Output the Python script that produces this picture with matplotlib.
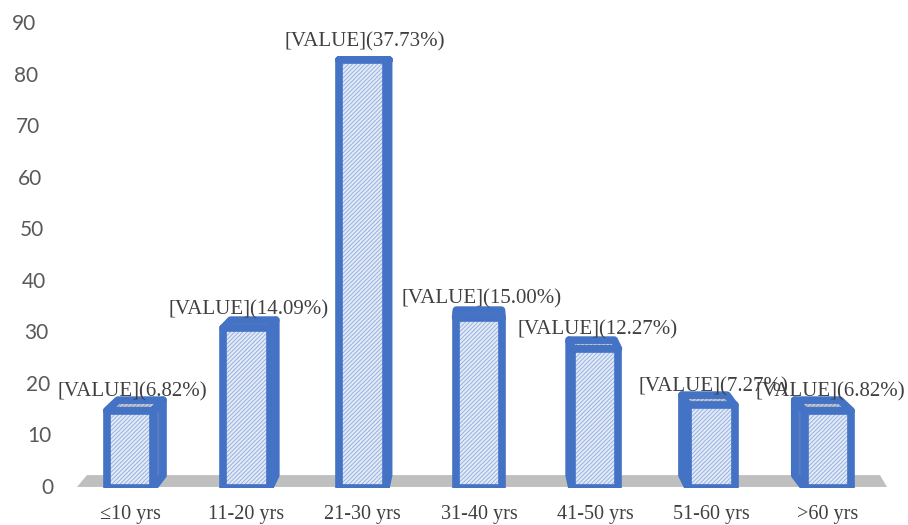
import matplotlib
matplotlib.use("Agg")
import matplotlib.pyplot as plt
from matplotlib.patches import Polygon
from matplotlib.transforms import blended_transform_factory
import numpy as np

categories = ["≤10 yrs", "11-20 yrs", "21-30 yrs", "31-40 yrs", "41-50 yrs", "51-60 yrs", ">60 yrs"]
counts = [15, 31, 83, 33, 27, 16, 15]
percent_labels = ["6.82%", "14.09%", "37.73%", "15.00%", "12.27%", "7.27%", "6.82%"]
y_ticks = [0, 10, 20, 30, 40, 50, 60, 70, 80, 90]

BLUE = "#4472c4"
SERIF = ["Liberation Serif", "DejaVu Serif"]
plt.rcParams["hatch.linewidth"] = 0.6

fig = plt.figure(figsize=(9.08, 5.25), dpi=100)
ax = fig.add_axes([0.0791, 0.0705, 0.8966, 0.8838])
ax.set_xlim(-0.5, 6.5)
ax.set_ylim(0, 90)
for s in ax.spines.values():
    s.set_visible(False)
ax.set_yticks([])

x = np.arange(len(categories))
w = 0.40
vp = (3.0, 83.0)
k = 0.03


def back(px, py):
    return (px + k * (vp[0] - px), py + k * (vp[1] - py))


# floor slab
floor = Polygon([(-0.456, 0.2), (6.509, 0.2), (6.449, 2.5), (-0.37, 2.5)],
                closed=True, facecolor="#bfbfbf", edgecolor="none", zorder=1,
                clip_on=False)
ax.add_patch(floor)

# side and top faces
for xi, v in zip(x, counts):
    xl, xr = xi - w / 2, xi + w / 2
    top = [(xl, v), (xr, v), back(xr, v), back(xl, v)]
    ax.add_patch(Polygon(top, closed=True, facecolor="#c3c9d4", edgecolor="#8e97aa",
                         hatch="////////", linewidth=0, zorder=2))
    ax.add_patch(Polygon(top, closed=True, fill=False, edgecolor=BLUE,
                         linewidth=5.5, joinstyle="round", zorder=2.5))
    if xi < vp[0] - 0.5:
        side = [(xr, 0), (xr, v), back(xr, v), back(xr, 0)]
    elif xi > vp[0] + 0.5:
        side = [(xl, 0), (xl, v), back(xl, v), back(xl, 0)]
    else:
        side = None
    if side is not None:
        ax.add_patch(Polygon(side, closed=True, facecolor="#5a7cc0", edgecolor="#2f3f66",
                             hatch="||", linewidth=0, zorder=2))
        ax.add_patch(Polygon(side, closed=True, fill=False, edgecolor=BLUE,
                             linewidth=5.5, joinstyle="round", zorder=2.5))

# front faces
ax.bar(x, counts, width=w, color="#e2eaf8", edgecolor="#8eaadb", linewidth=0,
       hatch="////////", zorder=3)
ax.bar(x, counts, width=w, fill=False, edgecolor=BLUE, linewidth=5.5,
       joinstyle="round", zorder=4)

# data labels
for xi, v, p in zip(x, counts, percent_labels):
    ax.text(xi + 0.02, v + 3.6, f"[VALUE]({p})", ha="center", va="center",
            fontsize=15, family=SERIF, color="#404040", zorder=6)

# y tick labels (perspective shifted)
trans = blended_transform_factory(fig.transFigure, ax.transData)
for t in y_ticks:
    px = 54 - 18 * t / 90
    ax.text(px / 908, t, str(t), transform=trans, ha="right", va="center",
            fontsize=15, family="Lato", color="#595959", clip_on=False)

# x tick labels
ax.set_xticks(x)
ax.set_xticklabels(categories, fontsize=14.5, family=SERIF, color="#404040")
ax.tick_params(axis="x", length=0, pad=12)

fig.savefig("out.png", dpi=100)
